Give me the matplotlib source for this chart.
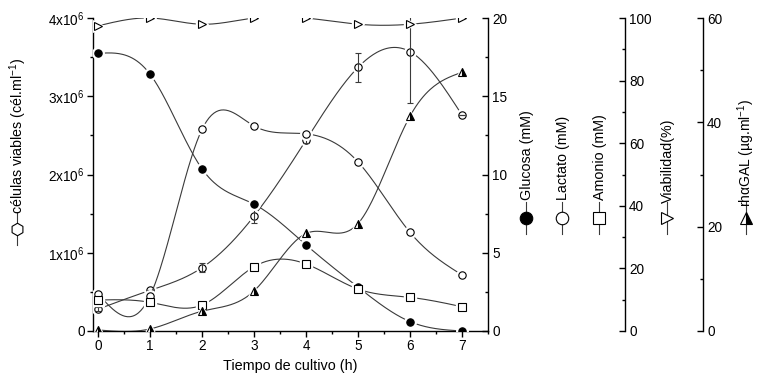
import numpy as np
import matplotlib
matplotlib.use('Agg')
import matplotlib.pyplot as plt
from matplotlib.ticker import MultipleLocator, FuncFormatter
from matplotlib.lines import Line2D

plt.rcParams['font.family'] = ['Liberation Sans', 'DejaVu Sans']
plt.rcParams['mathtext.default'] = 'regular'

# ---- data ----
tiempo = [0, 1, 2, 3, 4, 5, 6, 7]
celulas = [0.28e6, 0.52e6, 0.81e6, 1.47e6, 2.44e6, 3.37e6, 3.57e6, 2.76e6]
celulas_err = [0.03e6, 0.0, 0.06e6, 0.09e6, 0.04e6, 0.185e6, 0.66e6, 0.0]
glucosa = [17.74, 16.4, 10.35, 8.1, 5.5, 2.8, 0.6, 0.0]
lactato = [2.36, 2.26, 12.9, 13.1, 12.6, 10.8, 6.3, 3.58]
amonio = [1.98, 1.83, 1.66, 4.11, 4.28, 2.68, 2.15, 1.55]
viabilidad = [97.5, 100, 98, 100, 100, 98, 98, 100]
rhagal = [0.2, 0.4, 3.8, 7.7, 18.7, 20.6, 41.2, 49.6]


def spline(x, y, n=300):
    """Natural cubic spline through the data points (line style only)."""
    x = np.asarray(x, float)
    y = np.asarray(y, float)
    m = len(x)
    h = np.diff(x)
    A = np.zeros((m, m))
    b = np.zeros(m)
    A[0, 0] = 1
    A[-1, -1] = 1
    for i in range(1, m - 1):
        A[i, i - 1] = h[i - 1]
        A[i, i] = 2 * (h[i - 1] + h[i])
        A[i, i + 1] = h[i]
        b[i] = 6 * ((y[i + 1] - y[i]) / h[i] - (y[i] - y[i - 1]) / h[i - 1])
    M = np.linalg.solve(A, b)
    xs = np.linspace(x[0], x[-1], n)
    idx = np.clip(np.searchsorted(x, xs) - 1, 0, m - 2)
    x0 = x[idx]
    x1 = x[idx + 1]
    hh = x1 - x0
    t0 = x1 - xs
    t1 = xs - x0
    ys = (M[idx] * t0 ** 3 / (6 * hh) + M[idx + 1] * t1 ** 3 / (6 * hh)
          + (y[idx] / hh - M[idx] * hh / 6) * t0
          + (y[idx + 1] / hh - M[idx + 1] * hh / 6) * t1)
    return xs, ys


W, H = 759, 383
L, R, B, T = 93, 488, 331, 18
fig = plt.figure(figsize=(W / 100, H / 100), dpi=100)
ax = fig.add_axes([L / W, 1 - B / H, (R - L) / W, (B - T) / H])
ax.set_xlim(-0.1, 7.5)
ax.set_ylim(0, 4e6)

axm = ax.twinx()
axm.set_ylim(0, 20)
axv = ax.twinx()
axv.set_ylim(0, 100)
axv.spines['right'].set_position(('axes', (625 - L) / (R - L)))
axr = ax.twinx()
axr.set_ylim(0, 60)
axr.spines['right'].set_position(('axes', (703 - L) / (R - L)))

LC = '#3a3a3a'
for a in (ax, axm, axv, axr):
    a.spines['top'].set_visible(False)
    for s in a.spines.values():
        s.set_linewidth(1.0)
ax.spines['right'].set_visible(False)
for a in (axm, axv, axr):
    a.spines['left'].set_visible(False)
    a.spines['bottom'].set_visible(False)

TS = 9.8
ax.xaxis.set_major_locator(MultipleLocator(1))
ax.xaxis.set_minor_locator(MultipleLocator(0.5))
ax.yaxis.set_major_locator(MultipleLocator(1e6))
ax.yaxis.set_minor_locator(MultipleLocator(0.5e6))
ax.yaxis.set_major_formatter(FuncFormatter(
    lambda v, p: '0' if v == 0 else f'{int(round(v / 1e6))}x10$^6$'))
ax.tick_params(axis='both', which='major', direction='out', length=4, width=1, labelsize=TS, pad=2)
ax.tick_params(axis='both', which='minor', direction='out', length=2.5, width=1)

axm.yaxis.set_major_locator(MultipleLocator(5))
axm.yaxis.set_minor_locator(MultipleLocator(2.5))
axv.yaxis.set_major_locator(MultipleLocator(20))
axv.yaxis.set_minor_locator(MultipleLocator(10))
axr.yaxis.set_major_locator(MultipleLocator(20))
axr.yaxis.set_minor_locator(MultipleLocator(10))
for a in (axm, axv, axr):
    a.tick_params(axis='y', which='major', direction='in', length=4, width=1, labelsize=TS, pad=3)
    a.tick_params(axis='y', which='minor', direction='in', length=2.5, width=1)

ax.set_xlabel('Tiempo de cultivo (h)', fontsize=10.4, labelpad=4)

MS = 5.3


def series(a, y, marker, zorder=3, **kw):
    xs, ys = spline(tiempo, y)
    a.plot(xs, ys, color=LC, lw=0.8, zorder=zorder)
    a.plot(tiempo, y, ls='none', marker=marker, ms=MS + 3, mfc='white', mec='white',
           zorder=zorder + 1)
    a.plot(tiempo, y, ls='none', marker=marker, ms=MS, mec='black', mew=0.8,
           zorder=zorder + 2, **kw)


# cells (left axis)
series(ax, celulas, 'o', mfc='white')
ax.errorbar(tiempo, celulas, yerr=celulas_err, fmt='none', ecolor=LC, elinewidth=0.8,
            capsize=2.2, capthick=0.8, zorder=6)
# glucose, lactate, ammonium (0-20 mM axis)
series(axm, glucosa, 'o', mfc='black')
series(axm, lactato, 'o', mfc='white')
series(axm, amonio, 's', mfc='white')
# viability (%)
series(axv, viabilidad, '>', mfc='white')
# rhaGAL
series(axr, rhagal, '^', mfc='black', fillstyle='right', markerfacecoloralt='white')


def key(xp, yp, marker, ms=9, **kw):
    fig.add_artist(Line2D([xp / W, xp / W], [1 - (yp - 16) / H, 1 - (yp + 16) / H],
                          color=LC, lw=0.8, transform=fig.transFigure))
    fig.add_artist(Line2D([xp / W], [1 - yp / H], marker=marker, ms=ms, mec='black',
                          mew=0.8, color=LC, transform=fig.transFigure, **kw))


LS = 10.3
fig.text(18 / W, 1 - 214 / H, 'células viables (cél.ml$^{-1}$)', rotation=90,
         ha='center', va='bottom', fontsize=LS)
key(17, 229, 'h', mfc='white')

fig.text(527 / W, 1 - 200 / H, 'Glucosa (mM)', rotation=90, ha='center', va='bottom', fontsize=LS)
key(526, 218, 'o', mfc='black')
fig.text(563 / W, 1 - 200 / H, 'Lactato (mM)', rotation=90, ha='center', va='bottom', fontsize=LS)
key(562, 218, 'o', mfc='white')
fig.text(600 / W, 1 - 200 / H, 'Amonio (mM)', rotation=90, ha='center', va='bottom', fontsize=LS)
key(599, 218, 's', ms=8.5, mfc='white')
fig.text(668 / W, 1 - 203 / H, 'Viabilidad(%)', rotation=90, ha='center', va='bottom', fontsize=LS)
key(667, 218, '>', mfc='white')
fig.text(746 / W, 1 - 207 / H, 'rhαGAL (µg.ml$^{-1}$)', rotation=90, ha='center', va='bottom',
         fontsize=10)
key(746, 218, '^', mfc='black', fillstyle='right', markerfacecoloralt='white')

fig.savefig('out.png', dpi=100)
